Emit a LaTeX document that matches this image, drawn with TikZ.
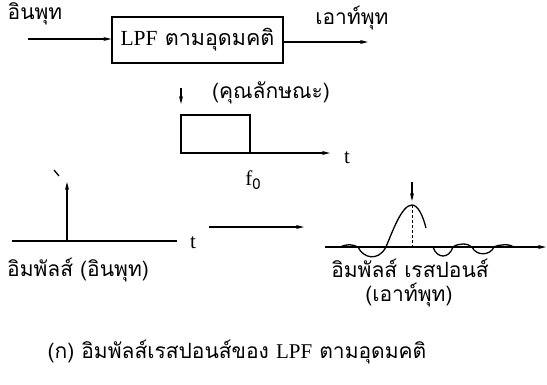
\documentclass[tikz,border=0pt]{standalone}
\usepackage{fontspec}
\setmainfont[Script=Thai]{Loma}
\newfontfamily\lat{Liberation Serif}
\usetikzlibrary{arrows.meta}
\tikzset{
  ln/.style={line width=1.3pt},
  arr/.style={ln,-{Stealth[length=8pt,width=4pt]}},
  lbl/.style={inner sep=0pt,font=\fontsize{21}{23}\selectfont},
  boxst/.style={draw,ln,minimum width=171pt,minimum height=46pt,inner sep=0pt,font=\fontsize{21.5}{23}\selectfont}
}
\begin{document}
\begin{tikzpicture}[x=1pt,y=-1pt]
\useasboundingbox (0,0) rectangle (547,384);
% block diagram
\node[boxst] (box) at (197.5,40) {{\lat LPF} ตามอุดมคติ};
\coordinate (in) at (28,39);
\coordinate (out) at (368,42);
\draw[arr] (in) -- (box.west |- in);
\draw[arr] (box.east |- out) -- (out);
\node[lbl] (lin) at (35,14) {อินพุท};
\node[lbl] (lout) at (352,18) {เอาท์พุท};
% characteristic
\node[lbl] (lchar) at (271,93) {(คุณลักษณะ)};
\coordinate (ca) at (181,88);
\coordinate (cb) at (181,104);
\draw[arr] (ca) -- (cb);
\coordinate (c0) at (181,153);
\coordinate (c1) at (330,153);
\draw[ln] (181,115) rectangle (250,153);
\draw[arr] (c0) -- (c1);
\node[lbl] (ct) at (347,158) {\lat t};
\node[lbl] (cf) at (253,180) {{\lat f}{\fontsize{15}{16}\selectfont\raisebox{-4pt}{0}}};
% impulse input
\coordinate (i0) at (12,241);
\coordinate (i1) at (177,241);
\coordinate (ib) at (67,241);
\coordinate (it) at (67,182);
\draw[ln] (i0) -- (i1);
\draw[arr] (ib) -- (it);
\draw[ln] (54,170) -- (59,176);
\node[lbl] (itl) at (193,243) {\lat t};
\node[lbl] (ilab) at (78,270) {อิมพัลส์ (อินพุท)};
% middle arrow
\coordinate (m0) at (209,227);
\coordinate (m1) at (304,227);
\draw[arr] (m0) -- (m1);
% sinc response
\coordinate (s0) at (325,247);
\coordinate (s1) at (546,247);
\draw[arr] (s0) -- (s1);
\draw[ln] (340,247) .. controls (347,244) and (352,244) .. (358,247)
  .. controls (363,258) and (378,262) .. (386,247)
  .. controls (393,230) and (402,205) .. (412,205)
  .. controls (418,205) and (423,216) .. (426,228);
\draw[ln] (433,247) .. controls (437,259) and (449,259) .. (453,247)
  .. controls (458,243) and (468,243) .. (472,247)
  .. controls (476,256) and (490,256) .. (494,247)
  .. controls (500,244) and (510,244) .. (514,247);
\draw[line width=1pt,densely dashed] (412,205) -- (412,247);
\coordinate (pa) at (412,182);
\coordinate (pb) at (412,201);
\draw[arr] (pa) -- (pb);
\node[lbl] (slab1) at (410,268) {อิมพัลส์ เรสปอนส์};
\node[lbl] (slab2) at (409,295) {(เอาท์พุท)};
% caption
\node[lbl] (cap) at (237,352) {(ก) อิมพัลส์เรสปอนส์ของ {\lat LPF} ตามอุดมคติ};
\end{tikzpicture}
\end{document}
